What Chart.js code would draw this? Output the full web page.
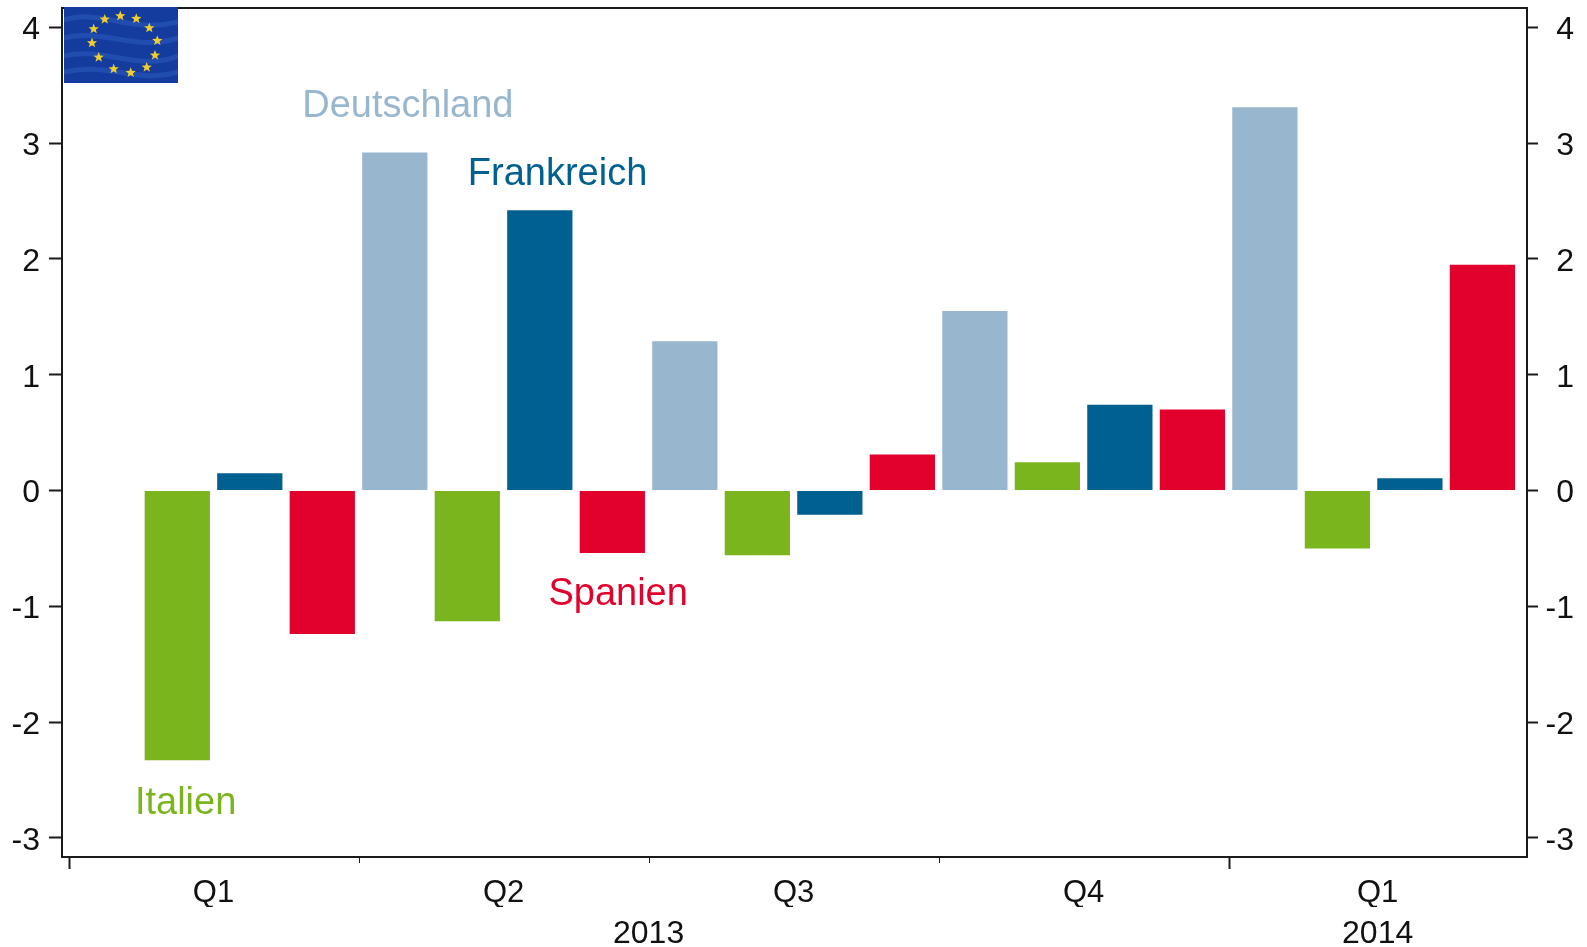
<!DOCTYPE html>
<html><head><meta charset="utf-8">
<style>html,body{margin:0;padding:0;background:#fff}#w{width:1587px;height:947px;position:relative}</style>
<script src="https://cdn.jsdelivr.net/npm/chart.js@4"></script>
</head><body><div id="w"><canvas id="c" width="1587" height="947"></canvas></div>
<script>
const quarterLabels = ['Q1','Q2','Q3','Q4','Q1'];
const quarterTickSlots = [2,6,10,14,18.055];
const yearLabels = ['2013','2014'];
const yearTickSlots = [8,18.055];
const seriesNames = ['Deutschland','Italien','Frankreich','Spanien'];
const deutschland = [null, 2.92, 1.29, 1.55, 3.31];
const italien     = [-2.33, -1.13, -0.56, 0.245, -0.50];
const frankreich  = [0.15, 2.42, -0.21, 0.74, 0.105];
const spanien     = [-1.24, -0.54, 0.31, 0.70, 1.95];
const yTicks = [-3,-2,-1,0,1,2,3,4];
const seriesColors = ['#98b7cf','#7ab51d','#00608f','#e2002d'];
// position of each name in data units (x in bar slots, y in value)
const labelAnchors = {Deutschland:[4.68,3.316],Frankreich:[6.745,2.726],Spanien:[7.58,-0.90],Italien:[1.615,-2.706]};

const FONT = '"Liberation Sans", Arial, sans-serif';
const series = [deutschland, italien, frankreich, spanien];
const perQuarter = series.length;
const datasets = series.map((vals,k)=>({
  label: seriesNames[k],
  backgroundColor: seriesColors[k],
  data: vals.map((v,q)=>({x:q*perQuarter+k+0.5, y:v})),
  grouped:false, categoryPercentage:1, barPercentage:0.9, borderWidth:0
}));

const xMin=-0.09, xMax=20.115;
const flagStars=[[120.3,16],[136.3,18.7],[149.3,28],[157.3,40.7],[155,55.3],[146.7,67.3],[130.7,72.7],[113.7,69],[98.7,57.3],[92,43],[93.7,29],[104.7,19.3]];
const flagWaves=[[64,20,100,8,130,34,178,22],[64,38,105,28,135,52,178,38],[64,56,100,46,140,72,178,56],[64,72,110,62,140,84,178,72]];

function star(ctx,cx,cy,r){
  ctx.beginPath();
  for(let i=0;i<10;i++){
    const a=-Math.PI/2+i*Math.PI/5, rr=i%2?r*0.42:r;
    ctx[i?'lineTo':'moveTo'](cx+rr*Math.cos(a),cy+rr*Math.sin(a));
  }
  ctx.closePath();ctx.fill();
}
function noPad(s){s.paddingTop=0;s.paddingBottom=0;s.paddingLeft=0;s.paddingRight=0;}
const deco={
  id:'deco',
  afterDatasetsDraw(chart){
    const {ctx,chartArea:a,scales:{x,y}}=chart;
    ctx.save();
    // names
    ctx.font='38px '+FONT;ctx.textAlign='center';ctx.textBaseline='middle';
    seriesNames.forEach((n,k)=>{
      ctx.fillStyle=seriesColors[k];
      const p=labelAnchors[n];
      ctx.fillText(n,x.getPixelForValue(p[0]),y.getPixelForValue(p[1]));
    });
    // frame
    ctx.strokeStyle='#1a1a1a';ctx.lineWidth=2;
    ctx.strokeRect(a.left,a.top,a.right-a.left,a.bottom-a.top);
    // x tick marks
    [0,4,8,12,16].forEach(v=>{
      const px=Math.round(x.getPixelForValue(v))+0.5,long=(v===0||v===16);
      ctx.lineWidth=long?2:1;
      ctx.beginPath();ctx.moveTo(px,a.bottom);ctx.lineTo(px,a.bottom+(long?12:6));ctx.stroke();
    });
    // flag
    ctx.save();
    ctx.beginPath();ctx.rect(64,7,114,76);ctx.clip();
    ctx.fillStyle='#143c9e';ctx.fillRect(64,7,114,76);
    ctx.strokeStyle='rgba(60,110,210,0.35)';ctx.lineWidth=5;
    flagWaves.forEach(w=>{ctx.beginPath();ctx.moveTo(w[0],w[1]);ctx.bezierCurveTo(w[2],w[3],w[4],w[5],w[6],w[7]);ctx.stroke();});
    ctx.restore();
    ctx.fillStyle='#f0cf2c';
    flagStars.forEach(s=>star(ctx,s[0],s[1],5.4));
    ctx.restore();
  }
};

new Chart(document.getElementById('c'),{
  type:'bar',
  data:{datasets},
  plugins:[deco],
  options:{
    responsive:false,animation:false,
    layout:{autoPadding:false,padding:{top:8,left:0,right:13,bottom:0}},
    plugins:{legend:{display:false},tooltip:{enabled:false}},
    scales:{
      x:{type:'linear',offset:false,position:'bottom',min:xMin,max:xMax,
        afterBuildTicks(s){s.ticks=quarterTickSlots.map(v=>({value:v}));},
        afterFit(s){s.height=50;noPad(s);},
        grid:{display:false},border:{display:false},
        ticks:{autoSkip:false,maxRotation:0,padding:10,color:'#111',font:{family:FONT,size:31},
          callback(v,i){return quarterLabels[i];}}
      },
      xYear:{type:'linear',offset:false,position:'bottom',min:xMin,max:xMax,
        afterBuildTicks(s){s.ticks=yearTickSlots.map(v=>({value:v}));},
        afterFit(s){s.height=40;noPad(s);},
        grid:{display:false},border:{display:false},
        ticks:{autoSkip:false,maxRotation:0,padding:0,color:'#111',font:{family:FONT,size:32},
          callback(v,i){return yearLabels[i];}}
      },
      y:{type:'linear',position:'left',min:-3.166,max:4.168,
        afterBuildTicks(s){s.ticks=yTicks.map(v=>({value:v}));},
        afterFit(s){s.width=62;noPad(s);},
        grid:{drawOnChartArea:false,tickLength:13,tickColor:'#1a1a1a',tickWidth:2},border:{display:false},
        ticks:{padding:9,labelOffset:3,color:'#111',font:{family:FONT,size:32}}
      },
      y2:{type:'linear',position:'right',min:-3.166,max:4.168,
        afterBuildTicks(s){s.ticks=yTicks.map(v=>({value:v}));},
        afterFit(s){s.width=47;noPad(s);},
        grid:{drawOnChartArea:false,tickLength:11,tickColor:'#1a1a1a',tickWidth:2},border:{display:false},
        ticks:{padding:8,labelOffset:3,crossAlign:'far',color:'#111',font:{family:FONT,size:32}}
      }
    }
  }
});
</script></body></html>
